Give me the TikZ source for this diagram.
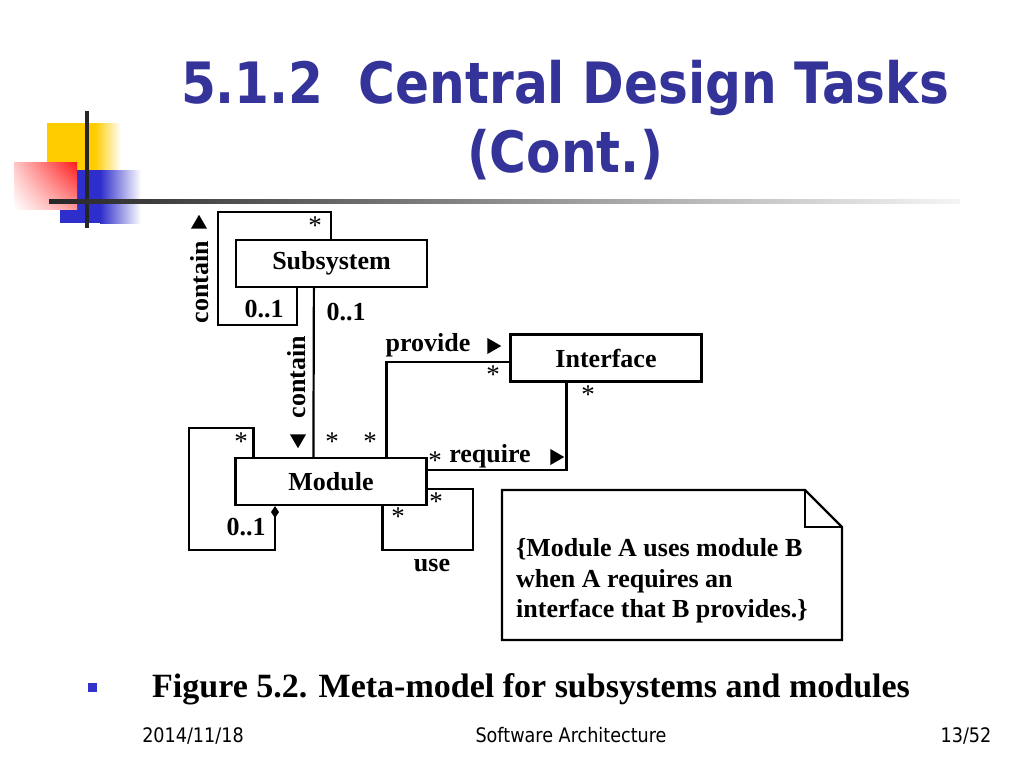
\documentclass[tikz,border=0pt]{standalone}
\usepackage{fontspec}
\setmainfont{Liberation Serif}
\newfontfamily\tahoma[FakeStretch=0.88]{DejaVu Sans}
\usetikzlibrary{shapes,shadings,arrows.meta,positioning,calc}
\definecolor{titleblue}{HTML}{333399}
\definecolor{bulletblue}{HTML}{3333CC}
\definecolor{logoyellow}{HTML}{FFCC00}
\definecolor{logoblue}{HTML}{2E2ECC}
\definecolor{logored}{HTML}{FF1A1A}

\begin{document}
\begin{tikzpicture}[x=1pt,y=-1pt,
    box/.style={draw,line width=2.2pt,minimum width=191pt,minimum height=47pt,
        inner sep=0pt,font=\fontsize{26}{30}\selectfont\bfseries},
    lbl/.style={inner sep=0pt,font=\fontsize{26}{30}\selectfont\bfseries},
    star/.style={inner sep=0pt,font=\fontsize{27}{30}\selectfont},
    wire/.style={line width=2.2pt},
    tri/.style={regular polygon,regular polygon sides=3,fill,draw=none,
        inner sep=0pt,minimum size=18.5pt}]
    % \draw[white] (0,0) grid (1024,768);
    \useasboundingbox[fill=white] (0,0) rectangle (1024,768);

    % logo
    \fill[logoyellow] (47,123) rectangle (95,170);
    \shade[left color=logoyellow,right color=white] (95,123) rectangle (121,170);
    \fill[logoblue] (60,170) rectangle (100,223);
    \shade[left color=logoblue,right color=white] (100,170) rectangle (141,223);
    \shade[upper left=logored!25,upper right=logored,lower left=white,lower right=logored!45]
        (14,162) rectangle (77,209);
    \fill[black!85] (85,111) rectangle (89,228);
    \shade[left color=black!85,right color=black!4] (49,199) rectangle (960,203);

    % title
    \node[anchor=base,text=titleblue,font=\tahoma\bfseries\fontsize{57}{66}\selectfont]
        (title1) at (565,103) {5.1.2\ \ Central Design Tasks};
    \node[anchor=base,text=titleblue,font=\tahoma\bfseries\fontsize{57}{66}\selectfont]
        (title2) at (565,172) {(Cont.)};

    % classes
    \node[box] (sub) at (331.5,263.5) {Subsystem};
    \node[box] (mod) at (331,481.5) {Module};
    \node[box] (intf) at (606,358) {Interface};

    % associations
    \coordinate (sl1) at (218,212);
    \coordinate (sl2) at (297,325);
    \draw[wire] ([xshift=96]sub.north west) |- (sl1) |- (sl2) -- (sl2 |- sub.south);
    \draw[wire] ([xshift=79]sub.south west) -- ([xshift=79]mod.north west);
    \coordinate (ml1) at (189,428);
    \coordinate (ml2) at (275,550);
    \draw[wire,-{Diamond[width=8pt,length=12pt]}] ([xshift=19]mod.north west) |- (ml1) |- (ml2)
        -- (ml2 |- mod.south);
    \draw[wire] ([xshift=152]mod.north west) |- ([yshift=-4]intf.west);
    \draw[wire] ([yshift=-13]mod.north east) -| ([xshift=57]intf.south west);
    \coordinate (ul1) at (473,550);
    \draw[wire] ([yshift=-32]mod.north east) -| (ul1) -| ([xshift=148]mod.south west);

    % multiplicities
    \foreach \x/\y [count=\i] in {315/226, 493/375, 588/395, 241/442, 332/442,
        370/442, 435/461, 436/502, 398/517}
        \node[star] (star\i) at (\x,\y) {*};
    \foreach \x/\y [count=\i] in {264/309, 346/312, 246/527}
        \node[lbl] (mult\i) at (\x,\y) {0..1};

    % role names
    \foreach \x/\y/\label in {428/345/provide, 490/456/require, 432/566/use}
        \node[lbl] (\label) at (\x,\y) {\label};
    \node[lbl,rotate=90] (contain1) at (200,282) {contain};
    \node[lbl,rotate=90] (contain2) at (297,377) {contain};
    \node[tri] (up1) at (199,224) {};
    \node[tri,shape border rotate=180] (down1) at (298,439) {};
    \node[tri,shape border rotate=-90] (right1) at (492,346) {};
    \node[tri,shape border rotate=-90] (right2) at (555,457) {};

    % note
    \coordinate (n1) at (502,490);
    \coordinate (n2) at (805,490);
    \coordinate (n3) at (842,527);
    \coordinate (n4) at (842,640);
    \coordinate (n5) at (502,640);
    \draw[wire,line join=miter] (n1) -- (n2) -- (n3) -- (n4) -- (n5) -- cycle;
    \draw[wire] (n2) |- (n3);
    \node[lbl,anchor=west,align=left,font=\fontsize{26}{30.5}\selectfont\bfseries]
        (note) at (516,581) {\{Module A uses module B\\when A requires an\\interface that B provides.\}};

    % caption and footer
    \fill[bulletblue] (88,683) rectangle (97,692);
    \node[anchor=base west,inner sep=0pt,font=\fontsize{34}{40}\selectfont\bfseries]
        (caption) at (152,697) {Figure 5.2. Meta-model for subsystems and modules};
    \foreach \x/\label [count=\i] in {193/{2014/11/18}, 571/{Software Architecture}, 966/{13/52}}
        \node[anchor=base,font=\tahoma\fontsize{20}{24}\selectfont] (foot\i) at (\x,742) {\label};
\end{tikzpicture}
\end{document}
